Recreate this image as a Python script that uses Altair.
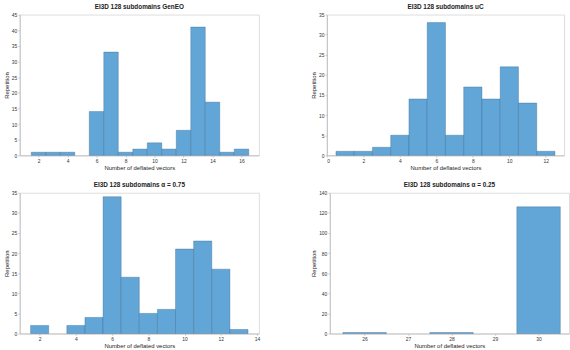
import altair as alt
import pandas as pd

# Panel data: bin centers and counts
geneo_x = [2, 3, 4, 6, 7, 8, 9, 10, 11, 12, 13, 14, 15, 16]
geneo_y = [1, 1, 1, 14, 33, 1, 2, 4, 2, 8, 41, 17, 1, 2]

uc_x = [1, 2, 3, 4, 5, 6, 7, 8, 9, 10, 11, 12]
uc_y = [1, 1, 2, 5, 14, 33, 5, 17, 14, 22, 13, 1]

a75_x = [2, 4, 5, 6, 7, 8, 9, 10, 11, 12, 13]
a75_y = [2, 2, 4, 34, 14, 5, 6, 21, 23, 16, 1]

a25_x = [26, 28, 30]
a25_y = [1, 1, 126]

titles = [
    "EI3D 128 subdomains GenEO",
    "EI3D 128 subdomains uC",
    "EI3D 128 subdomains \u03b1 = 0.75",
    "EI3D 128 subdomains \u03b1 = 0.25",
]

FILL = "#62a6d8"
EDGE = "#2f5f86"
AX = "#b8b8b8"


def panel(xs, ys, title, xdom, ydom, xticks, yticks, w, h):
    df = pd.DataFrame({"v": xs, "n": ys})
    return (
        alt.Chart(df, title=alt.Title(title))
        .transform_calculate(lo="datum.v - 0.5", hi="datum.v + 0.5")
        .mark_bar(fill=FILL, stroke=EDGE, strokeWidth=0.5, strokeOpacity=0.7)
        .encode(
            x=alt.X(
                "lo:Q",
                scale=alt.Scale(domain=xdom, nice=False, zero=False),
                axis=alt.Axis(values=xticks, title="Number of deflated vectors",
                              grid=False, titlePadding=1),
            ),
            x2="hi:Q",
            y=alt.Y(
                "n:Q",
                scale=alt.Scale(domain=ydom, nice=False),
                axis=alt.Axis(values=yticks, title="Repetition", grid=False),
            ),
            y2=alt.datum(0),
        )
        .properties(width=w, height=h)
    )


W = 243
H = 143
p1 = panel(geneo_x, geneo_y, titles[0], [0.7, 17.2], [0, 45],
           list(range(2, 17, 2)), list(range(0, 46, 5)), W, H)
p2 = panel(uc_x, uc_y, titles[1], [0, 13], [0, 35],
           list(range(0, 13, 2)), list(range(0, 36, 5)), 241, H)
p3 = panel(a75_x, a75_y, titles[2], [0.9, 14.1], [0, 35],
           list(range(2, 15, 2)), list(range(0, 36, 5)), W, H)
p4 = panel(a25_x, a25_y, titles[3], [25.2, 30.7], [0, 140],
           [26, 27, 28, 29, 30], list(range(0, 141, 20)), 243, H)

chart = (
    alt.vconcat(
        alt.hconcat(p1, p2, spacing=50),
        alt.hconcat(p3, p4, spacing=50),
        spacing=11,
    )
    .properties(padding={"left": 2, "top": 1, "right": 0, "bottom": 0})
    .configure_view(stroke=None)
    .configure(font="Liberation Sans")
    .configure_axis(
        domainColor=AX,
        tickColor=AX,
        tickSize=2,
        labelFontSize=5,
        labelColor="#333333",
        labelPadding=1,
        titleFontSize=6,
        titleFontWeight="normal",
        titleColor="#222222",
        titlePadding=2,
        domainWidth=0.8,
        tickWidth=0.6,
    )
    .configure_title(fontSize=6.5, fontWeight="bold", color="#222222", offset=2)
)

chart.save("out.html", embed_options={"renderer": "svg", "actions": False})
